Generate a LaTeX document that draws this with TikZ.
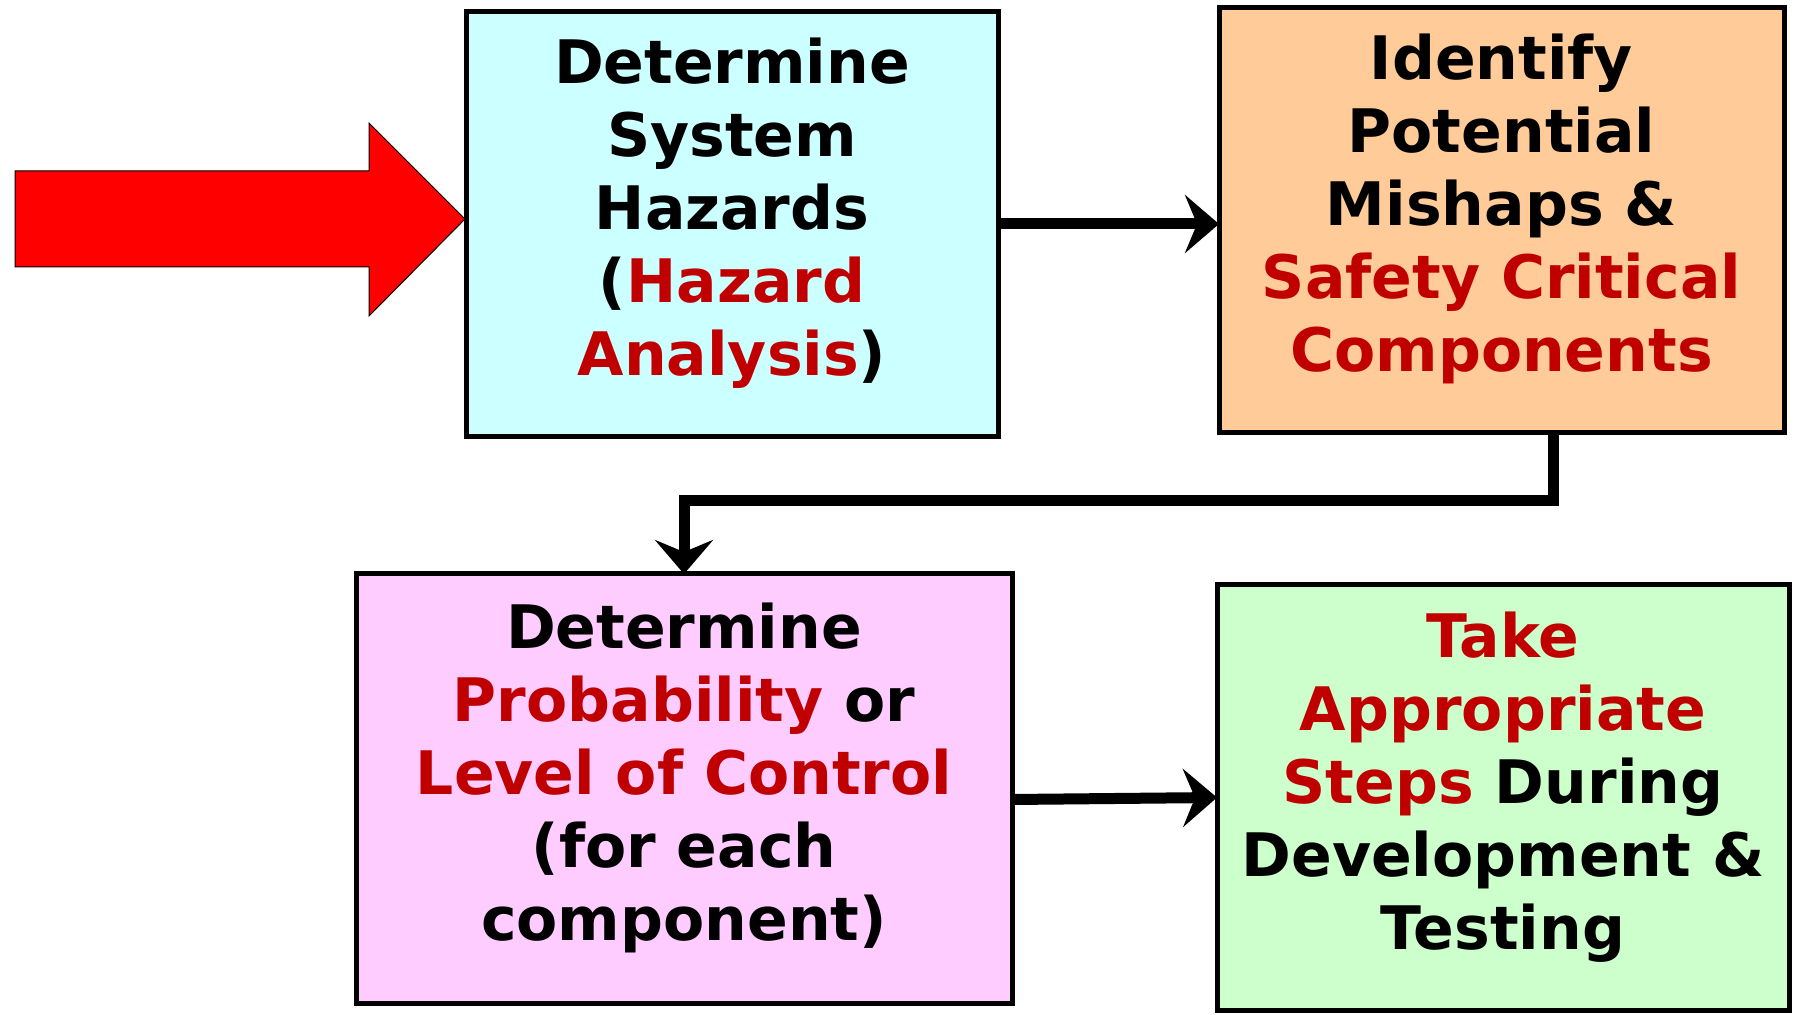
\documentclass[tikz,border=0pt]{standalone}
\usepackage{fontspec}
\setmainfont{DejaVu Sans}
\usetikzlibrary{arrows.meta,positioning}

\definecolor{boxcyan}{HTML}{CCFFFF}
\definecolor{boxorange}{HTML}{FFCC99}
\definecolor{boxpink}{HTML}{FFCCFF}
\definecolor{boxgreen}{HTML}{CCFFCC}
\definecolor{hilite}{HTML}{C00000}
\newcommand{\hl}[1]{\textcolor{hilite}{#1}}

\tikzset{
  stepbox/.style={draw, line width=2.5pt, align=center, inner sep=0pt, outer sep=0pt,
    minimum height=212.5pt, text depth=17pt, font=\fontsize{30}{36.5}\selectfont\bfseries},
  conn/.style={line width=5.5pt, -{Stealth[length=17pt,width=29pt,inset=6pt]}}
}

\begin{document}
\begin{tikzpicture}[x=0.5pt, y=-0.5pt]
  \useasboundingbox (0,0) rectangle (1793,1015);
  \node (hazards) [stepbox, fill=boxcyan, minimum width=266pt] at (732,224)
    {Determine\\System\\Hazards\\(\hl{Hazard}\\\hl{Analysis})};
  \node (mishaps) [stepbox, fill=boxorange, minimum width=282.5pt, right=110.5pt of hazards, yshift=2.2pt]
    {Identify\\Potential\\Mishaps \&\\\hl{Safety Critical}\\\hl{Components}};
  \node (control) [stepbox, fill=boxpink, minimum width=328pt, minimum height=214.5pt] at (684,788.5)
    {Determine\\\hl{Probability} or\\\hl{Level of Control}\\(for each\\component)};
  \node (steps)   [stepbox, fill=boxgreen, minimum width=286pt, right=102.5pt of control, yshift=-4.5pt]
    {\hl{Take}\\\hl{Appropriate}\\\hl{Steps} During\\Development \&\\Testing};
  % input arrow
  \filldraw[fill=red, draw=black, line width=0.5pt]
    (15,171) -- (369,171) -- (369,123) -- (465,219) -- (369,316) -- (369,267) -- (15,267) -- cycle;
  \coordinate (bend) at (684,501);
  \draw[conn] (hazards.east) -- (hazards.east -| mishaps.west);
  \draw[conn] ([xshift=25.75pt]mishaps.south) |- (bend) -- (control.north);
  \draw[conn] ([yshift=-5.5pt]control.east) -- (steps.west);
\end{tikzpicture}
\end{document}
